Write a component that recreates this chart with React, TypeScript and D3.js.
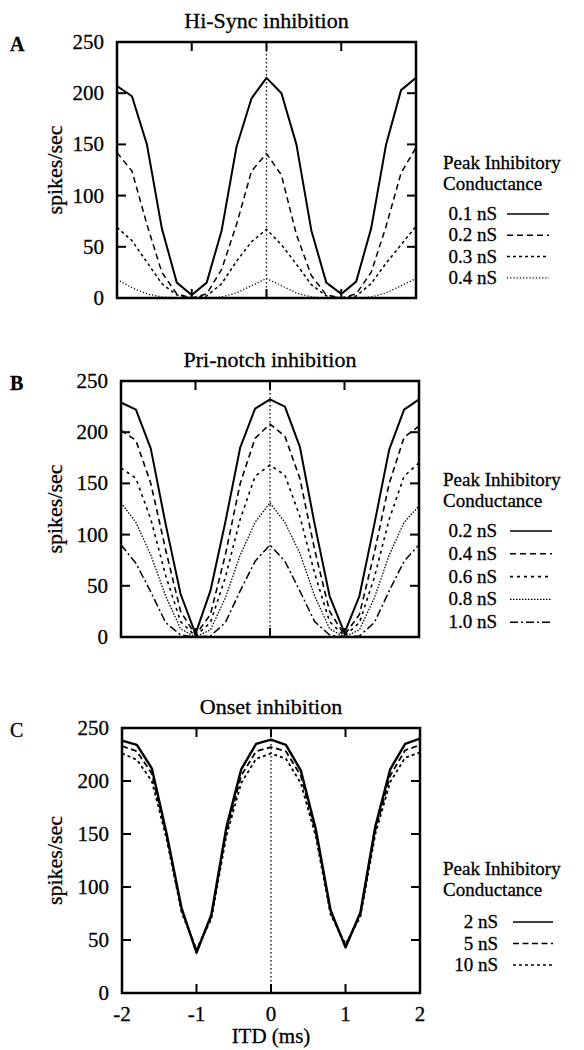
import React from 'react';
import * as d3 from 'd3';

// ITD sample points (ms)
const itdMs = [-2, -1.8, -1.6, -1.4, -1.2, -1, -0.8, -0.6, -0.4, -0.2, 0, 0.2, 0.4, 0.6, 0.8, 1, 1.2, 1.4, 1.6, 1.8, 2];
const xTickValues = [-2, -1, 0, 1, 2];
const xTickLabels = ['-2', '-1', '0', '1', '2'];
const yTickValues = [0, 50, 100, 150, 200, 250];

// Panel A: Hi-Sync inhibition
const hiSync01 = [207, 197, 150, 68, 15, 3, 15, 66, 148, 195, 215, 200, 150, 66, 15, 4, 16, 68, 150, 203, 215];
const hiSync02 = [142, 124, 72, 25, 4, 0, 4, 28, 72, 124, 141, 120, 62, 22, 3, 0, 4, 25, 70, 122, 147];
const hiSync03 = [69, 56, 35, 14, 3, 0, 2, 14, 36, 55, 67, 52, 33, 13, 2, 0, 2, 14, 34, 52, 70];
const hiSync04 = [18, 10, 4, 1, 0, 0, 0, 1, 5, 12, 19, 12, 5, 1, 0, 0, 0, 1, 5, 12, 19];
const hiSyncLabels = ['0.1 nS', '0.2 nS', '0.3 nS', '0.4 nS'];

// Panel B: Pri-notch inhibition
const priNotch02 = [229, 222, 184, 110, 42, 3, 45, 112, 185, 223, 232, 225, 186, 110, 40, 4, 40, 110, 183, 222, 232];
const priNotch04 = [202, 192, 150, 85, 25, 2, 22, 80, 150, 194, 208, 196, 155, 85, 25, 2, 22, 82, 150, 195, 206];
const priNotch06 = [165, 155, 115, 60, 15, 1, 14, 58, 115, 157, 168, 158, 118, 62, 15, 1, 14, 58, 115, 157, 170];
const priNotch08 = [131, 112, 80, 40, 8, 0, 7, 38, 80, 112, 131, 112, 82, 40, 8, 0, 7, 38, 80, 112, 128];
const priNotch10 = [90, 72, 44, 14, 2, 0, 1, 14, 45, 74, 90, 74, 45, 15, 2, 0, 1, 14, 45, 74, 90];
const priNotchLabels = ['0.2 nS', '0.4 nS', '0.6 nS', '0.8 nS', '1.0 nS'];

// Panel C: Onset inhibition
const onset2 = [238, 234, 212, 150, 80, 38, 74, 156, 211, 235, 239, 234, 210, 155, 78, 43, 76, 157, 211, 235, 240];
const onset5 = [233, 228, 207, 148, 78, 40, 72, 152, 205, 228, 232, 228, 205, 152, 76, 45, 74, 153, 205, 229, 234];
const onset10 = [226, 220, 200, 145, 76, 41, 70, 148, 198, 221, 226, 221, 198, 148, 74, 46, 72, 150, 199, 222, 227];
const onsetLabels = ['2 nS', '5 nS', '10 nS'];

const FONT = '"Liberation Serif", "Times New Roman", Times, serif';
const TS = { fontFamily: FONT, stroke: '#000', strokeWidth: 0.3 } as const;
const LEG_FS = 19;

type Series = { values: number[]; dash: string; width: number; label: string };
type Box = { x0: number; x1: number; y0: number; y1: number };
type LegendCfg = { peakY: number; condY: number; firstY: number; step: number; titleX: number; labelEnd: number; lx0: number; lx1: number };

function Panel(props: {
  box: Box; title: string; letter: string; letterBold: boolean; series: Series[]; showX: boolean; legend: LegendCfg;
}) {
  const { box, title, letter, letterBold, series, showX, legend } = props;
  const x = d3.scaleLinear().domain([-2, 2]).range([box.x0, box.x1]);
  const y = d3.scaleLinear().domain([0, 250]).range([box.y1, box.y0]);
  const line = d3.line<number>().x((_, i) => x(itdMs[i])).y((d) => y(d));
  const tickLen = 9;
  const innerX = xTickValues.slice(1, -1);
  const innerY = yTickValues.slice(1, -1);
  const cx = (box.x0 + box.x1) / 2;
  const cy = (box.y0 + box.y1) / 2;
  return (
    <g>
      <text x={cx} y={box.y0 - 14} textAnchor="middle" fontSize={22} {...TS}>{title}</text>
      <text x={10} y={box.y0 + 9} fontSize={20} {...TS} fontWeight={letterBold ? 'bold' : 'normal'}>{letter}</text>
      {/* zero ITD dotted line */}
      <line x1={x(0)} x2={x(0)} y1={box.y0} y2={box.y1} stroke="#000" strokeWidth={1.3} strokeDasharray="1.5 2.5" />
      {series.map((s, i) => (
        <path key={i} d={line(s.values) || ''} fill="none" stroke="#000" strokeWidth={s.width} strokeDasharray={s.dash} strokeLinejoin="round" />
      ))}
      {/* ticks */}
      {innerX.map((v) => (
        <g key={'xt' + v}>
          <line x1={x(v)} x2={x(v)} y1={box.y1} y2={box.y1 - tickLen} stroke="#000" strokeWidth={2} />
          <line x1={x(v)} x2={x(v)} y1={box.y0} y2={box.y0 + tickLen} stroke="#000" strokeWidth={2} />
        </g>
      ))}
      {innerY.map((v) => (
        <g key={'yt' + v}>
          <line x1={box.x0} x2={box.x0 + tickLen} y1={y(v)} y2={y(v)} stroke="#000" strokeWidth={2} />
          <line x1={box.x1} x2={box.x1 - tickLen} y1={y(v)} y2={y(v)} stroke="#000" strokeWidth={2} />
        </g>
      ))}
      <rect x={box.x0} y={box.y0} width={box.x1 - box.x0} height={box.y1 - box.y0} fill="none" stroke="#000" strokeWidth={2.5} />
      {yTickValues.map((v) => (
        <text key={'yl' + v} x={box.x0 - 13} y={y(v) + 7} textAnchor="end" fontSize={21} {...TS}>{v}</text>
      ))}
      <text transform={`translate(62, ${cy}) rotate(-90)`} textAnchor="middle" fontSize={22} {...TS}>spikes/sec</text>
      {showX && xTickValues.map((v, i) => (
        <text key={'xl' + v} x={x(v)} y={box.y1 + 28} textAnchor="middle" fontSize={21} {...TS}>{xTickLabels[i]}</text>
      ))}
      {showX && (
        <text x={cx} y={box.y1 + 50} textAnchor="middle" fontSize={21} {...TS}>ITD (ms)</text>
      )}
      {/* legend */}
      <text x={legend.titleX} y={legend.peakY} fontSize={LEG_FS} {...TS}>Peak Inhibitory</text>
      <text x={legend.titleX} y={legend.condY} fontSize={LEG_FS} {...TS}>Conductance</text>
      {series.map((s, i) => {
        const by = legend.firstY + i * legend.step;
        return (
          <g key={'lg' + i}>
            <text x={legend.labelEnd} y={by} textAnchor="end" fontSize={LEG_FS} {...TS}>{s.label}</text>
            <line x1={legend.lx0} x2={legend.lx1} y1={by - 6} y2={by - 6} stroke="#000" strokeWidth={Math.min(s.width, 1.6)} strokeDasharray={s.dash} />
          </g>
        );
      })}
    </g>
  );
}

export default function App() {
  const seriesA: Series[] = [
    { values: hiSync01, dash: '', width: 2, label: hiSyncLabels[0] },
    { values: hiSync02, dash: '6 4', width: 1.5, label: hiSyncLabels[1] },
    { values: hiSync03, dash: '3 3', width: 1.5, label: hiSyncLabels[2] },
    { values: hiSync04, dash: '1.2 2', width: 1.3, label: hiSyncLabels[3] },
  ];
  const seriesB: Series[] = [
    { values: priNotch02, dash: '', width: 2, label: priNotchLabels[0] },
    { values: priNotch04, dash: '6 4', width: 1.6, label: priNotchLabels[1] },
    { values: priNotch06, dash: '3 4', width: 1.6, label: priNotchLabels[2] },
    { values: priNotch08, dash: '1.5 1.5', width: 1.3, label: priNotchLabels[3] },
    { values: priNotch10, dash: '8 3 2 3', width: 1.5, label: priNotchLabels[4] },
  ];
  const seriesC: Series[] = [
    { values: onset2, dash: '', width: 2.4, label: onsetLabels[0] },
    { values: onset5, dash: '6 3.5', width: 1.8, label: onsetLabels[1] },
    { values: onset10, dash: '3 3', width: 1.8, label: onsetLabels[2] },
  ];
  return (
    <svg width={584} height={1050} style={{ position: 'absolute', left: 0, top: 0, background: '#fff' }}>
      <rect x={0} y={0} width={584} height={1050} fill="#fff" />
      <Panel box={{ x0: 117, x1: 416, y0: 42, y1: 298 }} title="Hi-Sync inhibition" letter="A" letterBold={true}
        series={seriesA} showX={false}
        legend={{ peakY: 169, condY: 190, firstY: 220, step: 21.3, titleX: 443, labelEnd: 497, lx0: 507, lx1: 549 }} />
      <Panel box={{ x0: 121, x1: 419, y0: 381, y1: 637 }} title="Pri-notch inhibition" letter="B" letterBold={true}
        series={seriesB} showX={false}
        legend={{ peakY: 486, condY: 507, firstY: 537, step: 22.8, titleX: 443, labelEnd: 497, lx0: 510, lx1: 552 }} />
      <Panel box={{ x0: 122, x1: 420, y0: 728, y1: 993 }} title="Onset inhibition" letter="C" letterBold={false}
        series={seriesC} showX={true}
        legend={{ peakY: 875, condY: 896, firstY: 928, step: 21.5, titleX: 443, labelEnd: 498, lx0: 513, lx1: 553 }} />
    </svg>
  );
}
